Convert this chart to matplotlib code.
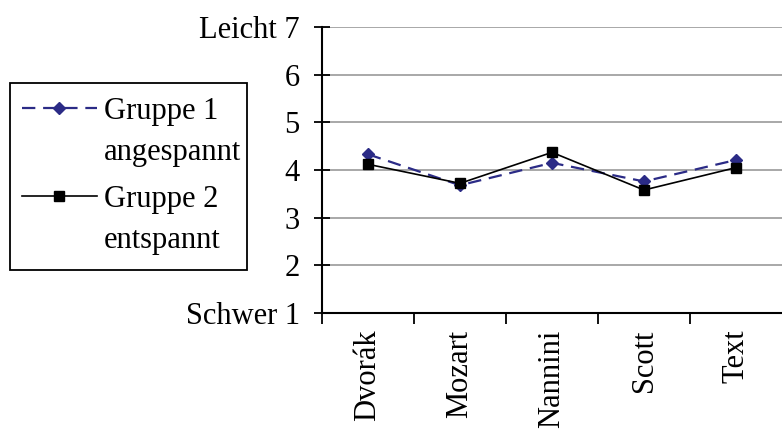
import matplotlib.pyplot as plt
import numpy as np
from matplotlib.lines import Line2D
from matplotlib.patches import Rectangle

plt.rcParams['font.family'] = ['Liberation Serif', 'DejaVu Serif']

stuecke = ["Dvorák", "Mozart", "Nannini", "Scott", "Text"]
gruppe1 = [4.33, 3.68, 4.15, 3.76, 4.21]
gruppe2 = [4.12, 3.72, 4.37, 3.58, 4.05]
y_labels = ["Schwer 1", "2", "3", "4", "5", "6", "Leicht 7"]
legend_labels = [("Gruppe 1", "angespannt"), ("Gruppe 2", "entspannt")]

W, H = 782, 429
FS = 22

stil1 = dict(color="#2b2b86", linestyle=(0, (6, 3.5)), linewidth=1.6,
             marker="D", markersize=6)
stil2 = dict(color="black", linewidth=1.2, marker="s", markersize=7)


def px(x, y):
    # pixel position (from top-left) to figure fraction
    return x / W, 1 - y / H


fig = plt.figure(figsize=(W / 100, H / 100), dpi=100)
ax = fig.add_axes([322 / W, 1 - 313 / H, 460 / W, 286 / H])

x = np.arange(len(stuecke)) + 0.5
ax.plot(x, gruppe1, **stil1)
ax.plot(x, gruppe2, **stil2)

ax.set_xlim(0, 5.0)
ax.set_ylim(1, 7)
ax.set_yticks(range(1, 8))
ax.set_yticklabels(y_labels, fontsize=FS)
ax.yaxis.grid(True, color="#999999", linewidth=1.2)
ax.set_axisbelow(True)

ax.set_xticks(range(0, 5))
ax.set_xticklabels([])
ax.set_xticks(x, minor=True)
ax.set_xticklabels(stuecke, minor=True, rotation=90, fontsize=FS)
ax.tick_params(axis="x", which="minor", length=0, pad=12)
ax.tick_params(axis="x", which="major", length=8, width=1.3, direction="out")
ax.tick_params(axis="y", length=12, width=1.3, direction="inout", pad=10)

for side in ["top", "right"]:
    ax.spines[side].set_visible(False)
for side in ["left", "bottom"]:
    ax.spines[side].set_linewidth(1.5)

# legend box drawn by hand so the key sits on the first text line
x0, y0 = px(10, 270)
x1, y1 = px(247, 83)
fig.patches.append(Rectangle((x0, y0), x1 - x0, y1 - y0, transform=fig.transFigure,
                             fill=False, edgecolor="black", linewidth=1.3))
for (zeile1, zeile2), stil, yy in zip(legend_labels, [stil1, stil2], [108, 196]):
    (lx0, ly), (lx1, _) = px(22, yy), px(97, yy)
    fig.lines.append(Line2D([lx0, lx1], [ly, ly], transform=fig.transFigure,
                            **{k: v for k, v in stil.items() if k != "marker"}))
    mx, _ = px(59, yy)
    fig.lines.append(Line2D([mx], [ly], transform=fig.transFigure, linestyle="none",
                            marker=stil["marker"], markersize=stil["markersize"],
                            color=stil["color"]))
    tx, ty = px(104, yy)
    fig.text(tx, ty, zeile1, fontsize=FS, va="center_baseline", ha="left")
    tx, ty = px(104, yy + 41)
    fig.text(tx, ty, zeile2, fontsize=FS, va="center_baseline", ha="left")

fig.savefig("out.png", dpi=100)
